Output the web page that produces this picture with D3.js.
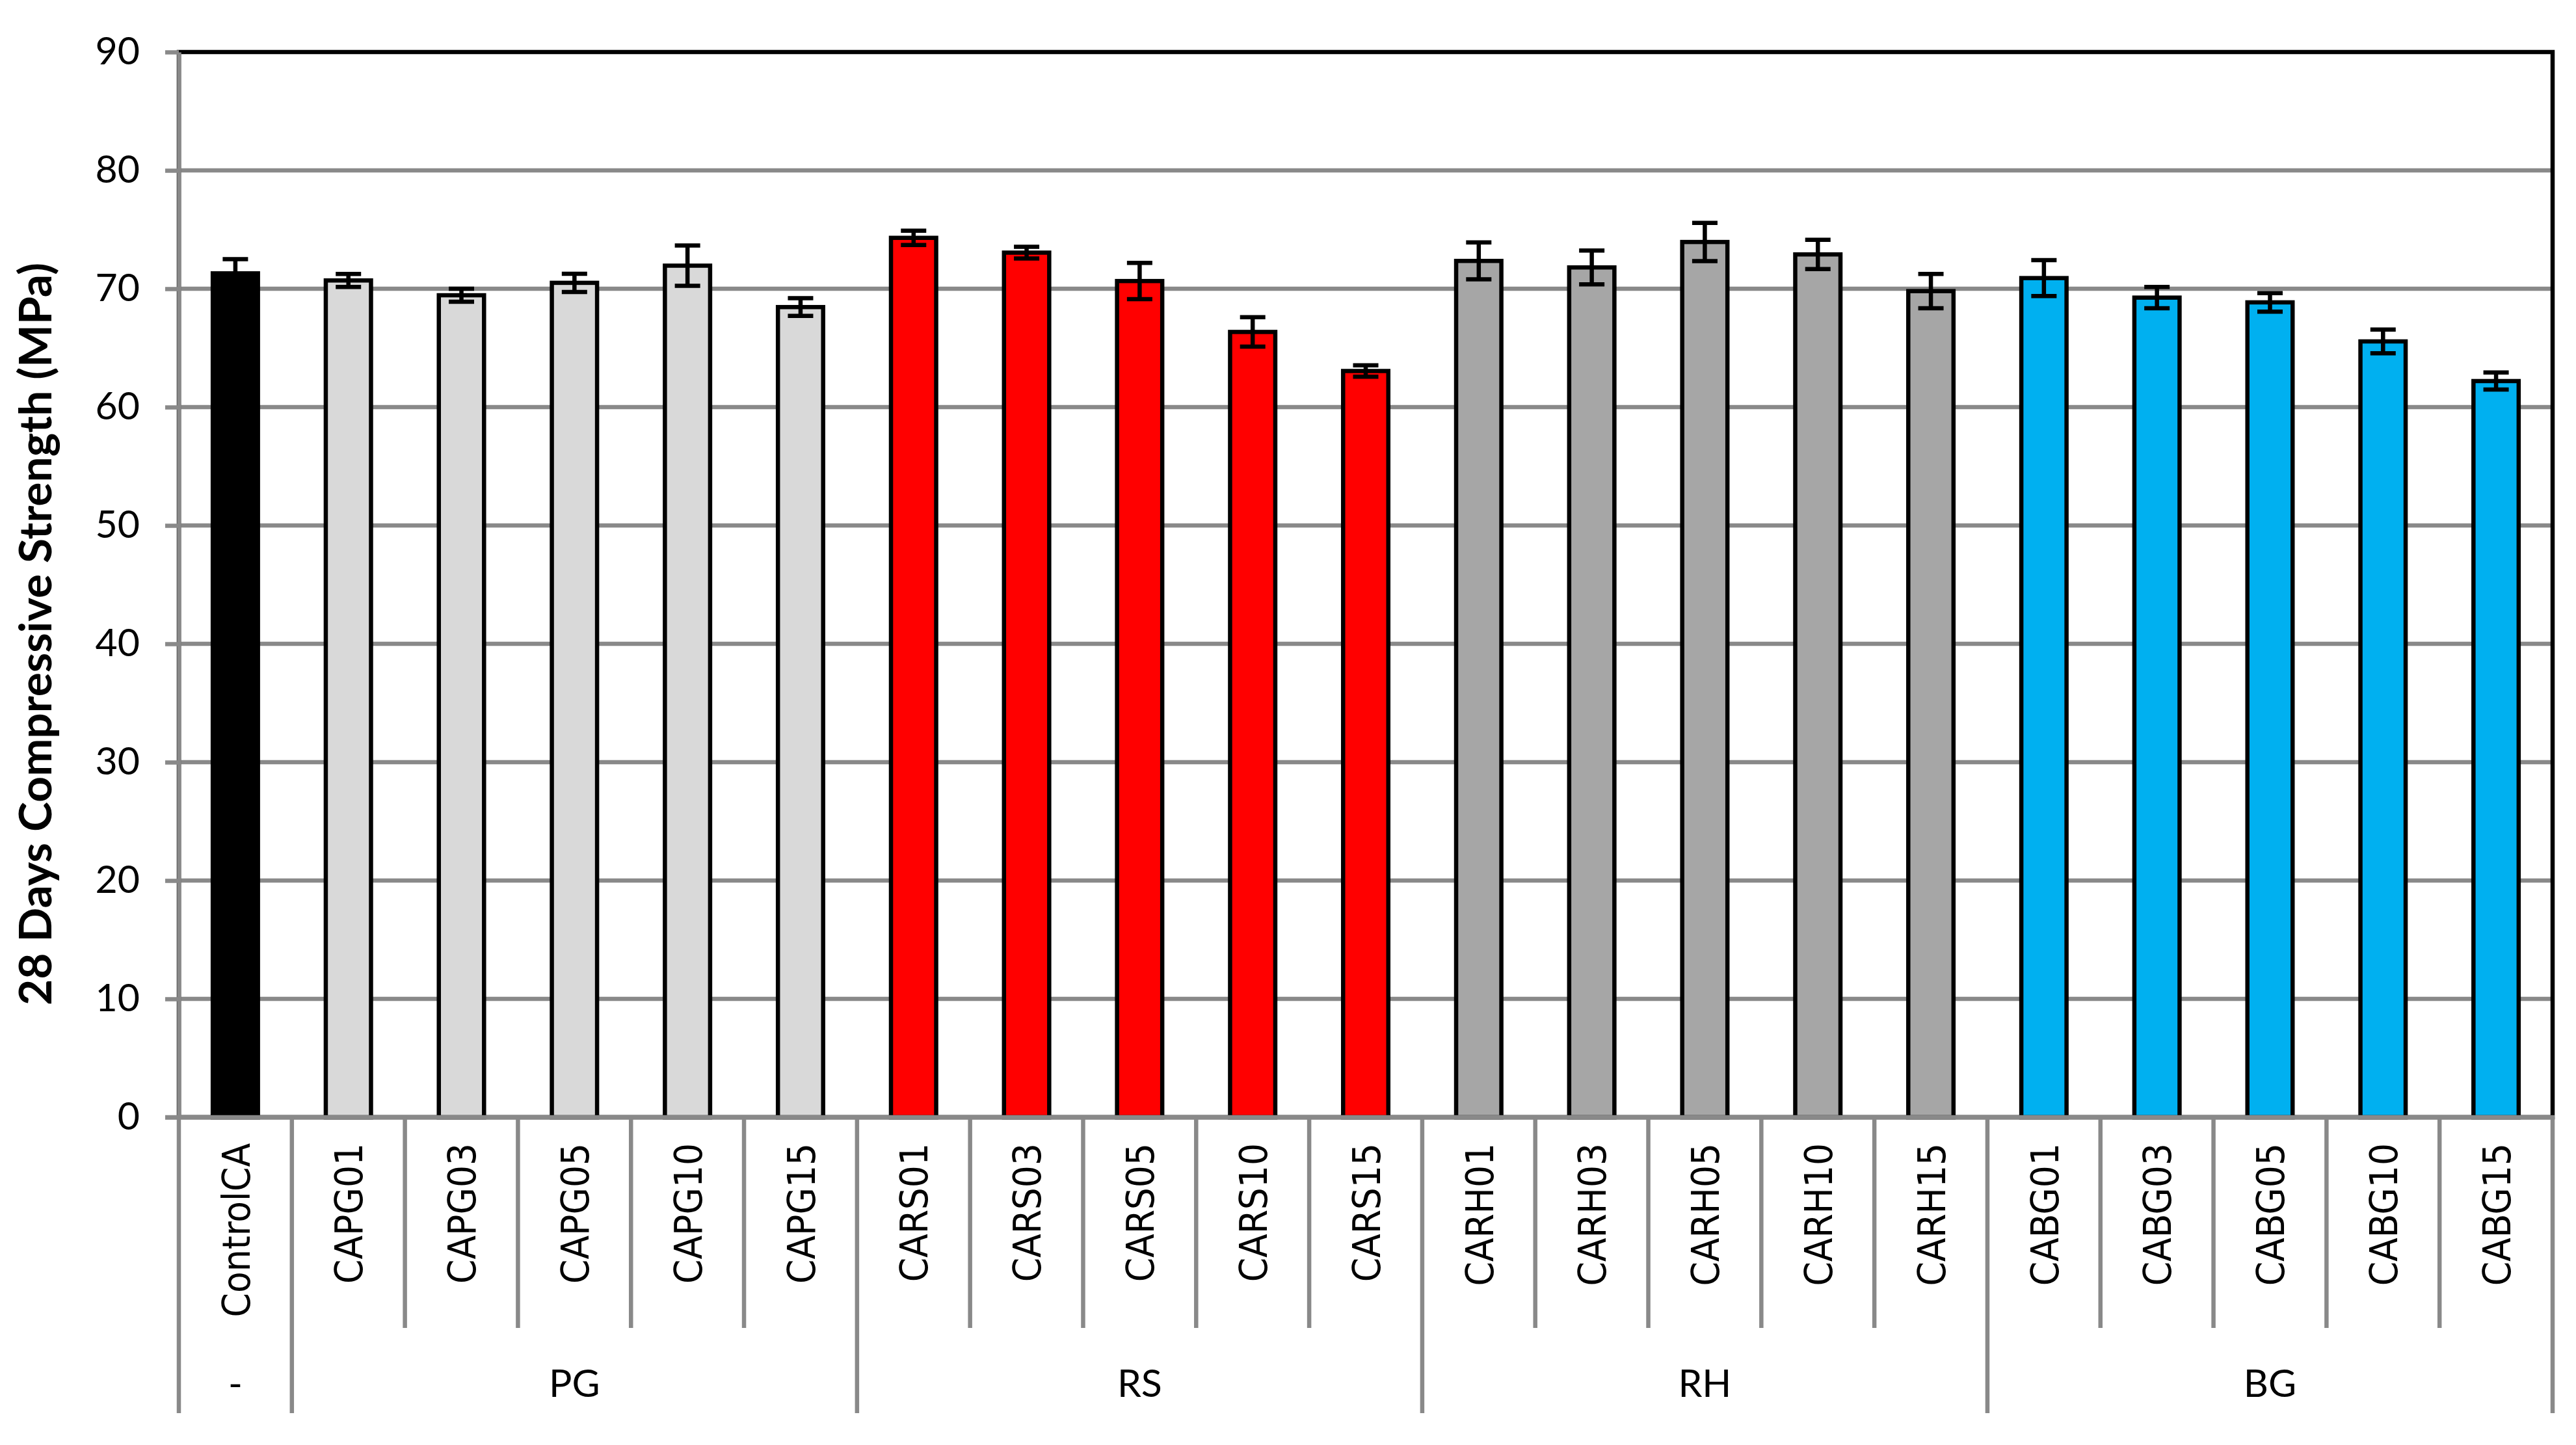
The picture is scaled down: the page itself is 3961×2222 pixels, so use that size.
<!DOCTYPE html>
<html>
<head>
<meta charset="utf-8">
<script src="https://cdn.jsdelivr.net/npm/d3@7"></script>
<style>
  body { margin: 0; background: #fff; }
  svg { display: block; }
</style>
</head>
<body>
<div id="chart"></div>
<script>
// mixes on the category axis, with the additive group each belongs to
const categories = ["ControlCA", "CAPG01", "CAPG03", "CAPG05", "CAPG10", "CAPG15",
    "CARS01", "CARS03", "CARS05", "CARS10", "CARS15",
    "CARH01", "CARH03", "CARH05", "CARH10", "CARH15",
    "CABG01", "CABG03", "CABG05", "CABG10", "CABG15"];
const groupOf = ["-", "PG", "PG", "PG", "PG", "PG",
    "RS", "RS", "RS", "RS", "RS",
    "RH", "RH", "RH", "RH", "RH",
    "BG", "BG", "BG", "BG", "BG"];
const groupLabels = ["-", "PG", "RS", "RH", "BG"];

// 28 day compressive strength (MPa) and its error bar half-width
const strength = [71.3, 70.7, 69.45, 70.5, 71.95, 68.45,
    74.3, 73.05, 70.65, 66.35, 63.05,
    72.35, 71.8, 73.95, 72.9, 69.8,
    70.9, 69.25, 68.85, 65.55, 62.2];
const errors = [1.2, 0.55, 0.55, 0.77, 1.7, 0.75,
    0.6, 0.5, 1.53, 1.24, 0.48,
    1.56, 1.43, 1.62, 1.24, 1.45,
    1.52, 0.9, 0.78, 1.0, 0.72];

const yTicks = [0, 10, 20, 30, 40, 50, 60, 70, 80, 90];
const yTitle = "28 Days Compressive Strength (MPa)";

const W = 3961, H = 2222;
const plot = {left: 275, right: 3925, top: 80, bottom: 1718};
const gridColor = "#898989";
const lw = 6.5;
const groupColor = {"-": "#000000", "PG": "#D9D9D9", "RS": "#FF0000", "RH": "#A6A6A6", "BG": "#00B0F0"};
const numFont = "Lato, 'Open Sans', sans-serif";
const catFont = "'DejaVu Sans Condensed', 'DejaVu Sans', sans-serif";

const svg = d3.select("#chart").append("svg")
    .attr("width", W)
    .attr("height", H);

svg.append("rect").attr("width", W).attr("height", H).attr("fill", "#fff");

const x = d3.scaleBand()
    .domain(categories)
    .range([plot.left, plot.right]);

const y = d3.scaleLinear()
    .domain([0, 90])
    .range([plot.bottom, plot.top]);

// horizontal gridlines
svg.append("g").selectAll("line")
    .data(yTicks.filter(t => t < 90))
    .join("line")
    .attr("x1", plot.left).attr("x2", plot.right)
    .attr("y1", d => y(d)).attr("y2", d => y(d))
    .attr("stroke", gridColor).attr("stroke-width", lw);

// plot area border (top and right show black)
svg.append("rect")
    .attr("x", plot.left).attr("y", y(90))
    .attr("width", plot.right - plot.left).attr("height", y(0) - y(90))
    .attr("fill", "none").attr("stroke", "#000").attr("stroke-width", lw);

// bars
const barW = x.bandwidth() * 0.4;
svg.append("g").selectAll("rect")
    .data(categories)
    .join("rect")
    .attr("x", d => x(d) + x.bandwidth() / 2 - barW / 2)
    .attr("y", (d, i) => y(strength[i]))
    .attr("width", barW)
    .attr("height", (d, i) => y(0) - y(strength[i]))
    .attr("fill", (d, i) => groupColor[groupOf[i]])
    .attr("stroke", "#000")
    .attr("stroke-width", lw);

// error bars
const capW = 39;
const err = svg.append("g").attr("stroke", "#000").attr("stroke-width", lw);
categories.forEach((c, i) => {
    let cx = x(c) + x.bandwidth() / 2;
    let hi = y(strength[i] + errors[i]), lo = y(strength[i] - errors[i]);
    err.append("line").attr("x1", cx).attr("x2", cx).attr("y1", hi).attr("y2", lo);
    err.append("line").attr("x1", cx - capW / 2).attr("x2", cx + capW / 2).attr("y1", hi).attr("y2", hi);
    err.append("line").attr("x1", cx - capW / 2).attr("x2", cx + capW / 2).attr("y1", lo).attr("y2", lo);
});

// y axis
const yAxis = d3.axisLeft(y)
    .tickValues(yTicks)
    .tickSize(21)
    .tickSizeOuter(0)
    .tickPadding(39)
    .tickFormat(d3.format("d"));

const yg = svg.append("g")
    .attr("transform", "translate(" + plot.left + ",0)")
    .call(yAxis);
yg.select(".domain").attr("stroke", gridColor).attr("stroke-width", lw);
yg.selectAll(".tick line").attr("stroke", gridColor).attr("stroke-width", lw);
yg.selectAll(".tick text")
    .attr("fill", "#000")
    .style("font-family", numFont)
    .style("font-size", "59px");

// category axis line
svg.append("line")
    .attr("x1", plot.left - 21).attr("x2", plot.right + 3)
    .attr("y1", y(0)).attr("y2", y(0))
    .attr("stroke", gridColor).attr("stroke-width", lw);

// separators below the axis: short between mixes, long between groups
const shortEnd = 2042, longEnd = 2173;
const sepX = categories.map((c, i) => ({x: x(c), long: i === 0 || groupOf[i] !== groupOf[i - 1]}));
sepX.push({x: plot.right, long: true});
svg.append("g").selectAll("line")
    .data(sepX)
    .join("line")
    .attr("x1", d => d.x).attr("x2", d => d.x)
    .attr("y1", y(0)).attr("y2", d => d.long ? longEnd : shortEnd)
    .attr("stroke", gridColor).attr("stroke-width", lw);

// category labels, rotated
const catLabels = svg.append("g")
    .style("font-family", catFont)
    .style("font-stretch", "condensed")
    .style("font-size", "60px")
    .attr("fill", "#000")
    .attr("text-anchor", "end");
catLabels.selectAll("text")
    .data(categories)
    .join("text")
    .attr("transform", d => "translate(" + (x(d) + x.bandwidth() / 2 + 22) + ",1758) rotate(-90)")
    .text(d => d);
// fit the label size so that "CAPG01" spans the same length as in the original
let probe = catLabels.selectAll("text").filter(d => d === "CAPG01").node();
let catSize = 60 * 216 / probe.getComputedTextLength();
catLabels.style("font-size", catSize + "px");
catLabels.selectAll("text")
    .attr("transform", d => "translate(" + (x(d) + x.bandwidth() / 2 + catSize * 0.365) + ",1758) rotate(-90)");

// group labels
const groupCenters = groupLabels.map(g => {
    let xs = categories.filter((c, i) => groupOf[i] === g).map(c => x(c) + x.bandwidth() / 2);
    return {label: g, x: d3.mean(xs)};
});
svg.append("g").selectAll("text")
    .data(groupCenters)
    .join("text")
    .attr("x", d => d.x)
    .attr("y", 2148)
    .attr("text-anchor", "middle")
    .style("font-family", numFont)
    .style("font-size", "59px")
    .attr("fill", "#000")
    .text(d => d.label);

// y axis title
const title = svg.append("text")
    .attr("transform", "translate(79,975) rotate(-90)")
    .attr("text-anchor", "middle")
    .style("font-family", numFont)
    .style("font-weight", "bold")
    .style("font-size", "66px")
    .attr("fill", "#000")
    .text(yTitle);
let tLen = title.node().getComputedTextLength();
title.style("font-size", (66 * 1142 / tLen) + "px");
</script>
</body>
</html>
